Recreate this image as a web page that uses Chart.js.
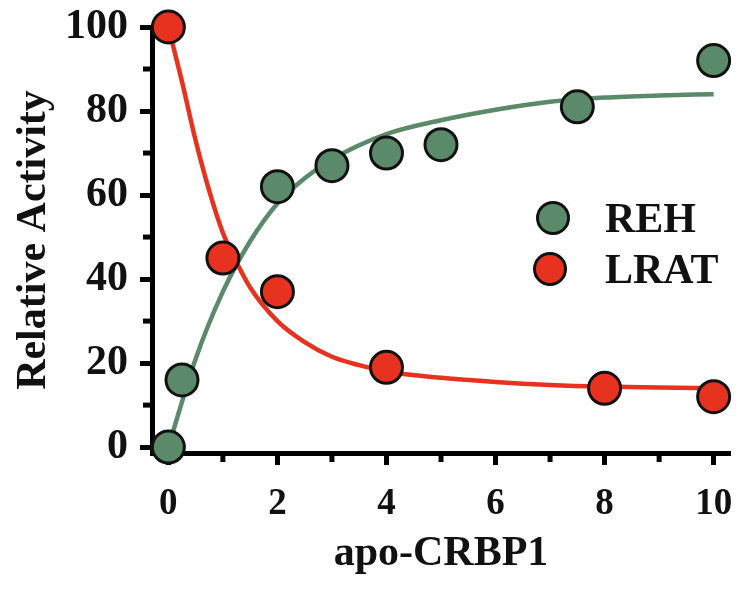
<!DOCTYPE html>
<html>
<head>
<meta charset="utf-8">
<script src="https://cdn.jsdelivr.net/npm/chart.js@4.4.1/dist/chart.umd.min.js"></script>
<style>
  html, body { margin: 0; padding: 0; background: #fff; }
  #wrap { width: 754px; height: 591px; }
</style>
</head>
<body>
<div id="wrap"><canvas id="activityChart"></canvas></div>
<script>
// measured points
const rehX = [0, 0.25, 2, 3, 4, 5, 7.5, 10];
const rehY = [0, 16, 62, 67, 70, 72, 81, 92];
const lratX = [0, 1, 2, 4, 8, 10];
const lratY = [100, 45, 37, 19, 14, 12];

// fitted curves
const rehCurveX = [0, 0.5, 1, 1.5, 2, 2.5, 3, 4, 5, 6, 7, 8, 9, 10];
const rehCurveY = [0, 21, 37, 49, 58, 64, 68.5, 74.5, 77.8, 80.3, 82.2, 83.2, 83.7, 84];
const lratCurveX = [0, 0.25, 0.5, 0.75, 1, 1.25, 1.5, 2, 2.5, 3, 3.5, 4, 5, 6, 7, 8, 9, 10];
const lratCurveY = [100, 87, 73, 61, 51, 44, 38, 30, 25, 21.5, 19.5, 18, 16.5, 15.5, 14.8, 14.4, 14.2, 14];

// axis ticks
const xTicks = [0, 1, 2, 3, 4, 5, 6, 7, 8, 9, 10];
const yTicks = [0, 10, 20, 30, 40, 50, 60, 70, 80, 90, 100];

const GREEN = "#5a8a69";
const RED = "#e7321f";
const SERIF = "'Liberation Serif', 'Times New Roman', serif";

const pts = (xs, ys) => xs.map((x, i) => ({ x: x, y: ys[i] }));

// short unlabeled ticks + legend
const extrasPlugin = {
  id: "extras",
  afterDraw(chart) {
    const ctx = chart.ctx;
    const area = chart.chartArea;
    const sx = chart.scales.x;
    const sy = chart.scales.y;
    ctx.save();
    ctx.strokeStyle = "#000";
    ctx.lineWidth = 5;
    xTicks.filter(v => v % 2 !== 0).forEach(v => {
      const px = sx.getPixelForValue(v);
      ctx.beginPath();
      ctx.moveTo(px, area.bottom);
      ctx.lineTo(px, area.bottom + 9);
      ctx.stroke();
    });
    yTicks.filter(v => v % 20 !== 0).forEach(v => {
      const py = sy.getPixelForValue(v);
      ctx.beginPath();
      ctx.moveTo(area.left, py);
      ctx.lineTo(area.left - 9, py);
      ctx.stroke();
    });

    // legend
    const items = [
      { label: "REH", color: GREEN, cx: 553, cy: 218, ty: 232 },
      { label: "LRAT", color: RED, cx: 550, cy: 269, ty: 283 }
    ];
    ctx.font = "bold 42px " + SERIF;
    ctx.textBaseline = "alphabetic";
    ctx.textAlign = "left";
    items.forEach(it => {
      ctx.beginPath();
      ctx.arc(it.cx, it.cy, 15.5, 0, Math.PI * 2);
      ctx.fillStyle = it.color;
      ctx.fill();
      ctx.lineWidth = 3;
      ctx.strokeStyle = "#111";
      ctx.stroke();
      ctx.fillStyle = "#111";
      ctx.fillText(it.label, 605, it.ty);
    });
    ctx.restore();
  }
};

const activityChart = new Chart(document.getElementById("activityChart"), {
  type: "scatter",
  data: {
    datasets: [
      {
        label: "REH",
        data: pts(rehX, rehY),
        backgroundColor: GREEN,
        borderColor: "#111",
        borderWidth: 3,
        pointRadius: 16,
        clip: false,
        order: 0
      },
      {
        label: "LRAT",
        data: pts(lratX, lratY),
        backgroundColor: RED,
        borderColor: "#111",
        borderWidth: 3,
        pointRadius: 16,
        clip: false,
        order: 0
      },
      {
        label: "REH fit",
        data: pts(rehCurveX, rehCurveY),
        showLine: true,
        borderColor: GREEN,
        borderWidth: 4.5,
        pointRadius: 0,
        cubicInterpolationMode: "monotone",
        order: 1
      },
      {
        label: "LRAT fit",
        data: pts(lratCurveX, lratCurveY),
        showLine: true,
        borderColor: RED,
        borderWidth: 4.5,
        pointRadius: 0,
        cubicInterpolationMode: "monotone",
        order: 1
      }
    ]
  },
  options: {
    responsive: true,
    maintainAspectRatio: false,
    animation: false,
    layout: { padding: { left: 0, top: 27, right: 24, bottom: 0 } },
    plugins: {
      legend: { display: false },
      tooltip: { enabled: false }
    },
    scales: {
      x: {
        type: "linear",
        min: -0.3,
        max: 10.3,
        afterBuildTicks: s => { s.ticks = xTicks.map(v => ({ value: v })); },
        afterFit: s => { s.height = 138; },
        border: { display: true, color: "#000", width: 5 },
        grid: {
          drawOnChartArea: false,
          tickLength: 12,
          tickWidth: 5,
          tickColor: c => (c.tick && c.tick.value % 2 === 0) ? "#000" : "rgba(0,0,0,0)"
        },
        ticks: {
          color: "#111",
          padding: 17,
          maxRotation: 0,
          autoSkip: false,
          font: { family: SERIF, size: 37, weight: "bold" },
          callback: v => (v % 2 === 0 ? v : "")
        },
        title: {
          display: true,
          text: "apo-CRBP1",
          color: "#111",
          padding: { top: 0, bottom: 12 },
          font: { family: SERIF, size: 42, weight: "bold" }
        }
      },
      y: {
        type: "linear",
        min: -1.4,
        max: 100,
        afterBuildTicks: s => { s.ticks = yTicks.map(v => ({ value: v })); },
        afterFit: s => { s.width = 152; },
        border: { display: true, color: "#000", width: 5 },
        grid: {
          drawOnChartArea: false,
          tickLength: 12,
          tickWidth: 5,
          tickColor: c => (c.tick && c.tick.value % 20 === 0) ? "#000" : "rgba(0,0,0,0)"
        },
        ticks: {
          color: "#111",
          padding: 12,
          autoSkip: false,
          font: { family: SERIF, size: 42, weight: "bold", lineHeight: 0.6 },
          callback: v => (v % 20 === 0 ? v : "")
        },
        title: {
          display: true,
          text: "Relative Activity",
          color: "#111",
          padding: { top: 9, bottom: 0 },
          font: { family: SERIF, size: 42, weight: "bold" }
        }
      }
    }
  },
  plugins: [extrasPlugin]
});
</script>
</body>
</html>
